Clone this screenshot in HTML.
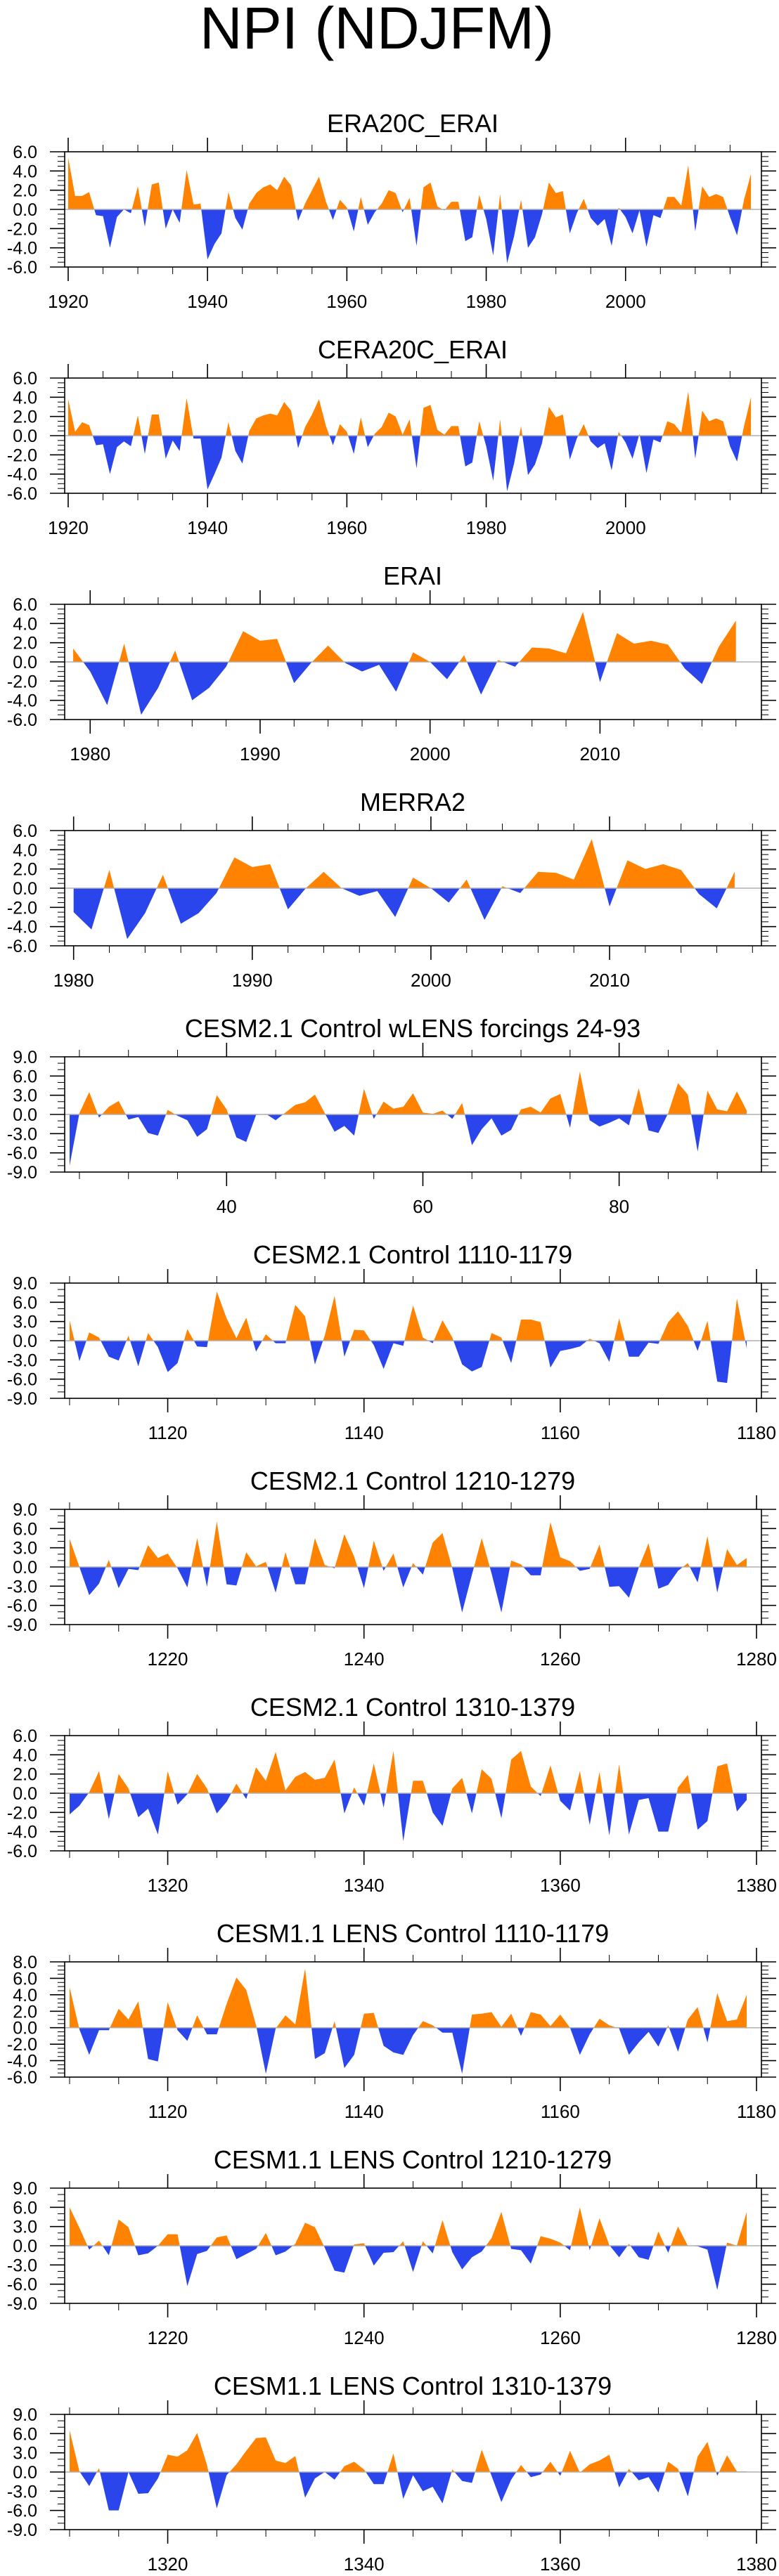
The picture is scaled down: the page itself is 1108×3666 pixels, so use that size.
<!DOCTYPE html>
<html><head><meta charset="utf-8">
<style>
html,body{margin:0;padding:0;background:#fff;}
svg{display:block;font-family:"Liberation Sans",Arial,sans-serif;}
</style></head>
<body>
<svg id="chart" width="1108" height="3666" viewBox="0 0 1108 3666" xmlns="http://www.w3.org/2000/svg">
<text x="536" y="69" font-size="84" text-anchor="middle">NPI (NDJFM)</text>
</svg>
<script>
// ---- data arrays ----
const era20cStart = 1920;
const era20cValues = [5.4,1.4,1.4,1.8,-0.6,-0.7,-4.0,-0.8,0.0,-0.4,2.4,-1.8,2.6,2.8,-2.0,0.0,-1.4,4.1,0.5,0.6,-5.2,-3.6,-2.5,1.8,-0.9,-2.1,0.6,1.7,2.3,2.6,2.0,3.4,2.5,-1.2,0.6,2.0,3.4,0.8,-1.1,1.0,0.2,-2.3,1.3,-1.6,-0.3,0.6,2.0,1.7,-0.3,1.2,-3.8,2.3,2.8,0.3,-0.1,0.8,0.8,-3.3,-2.9,1.5,-1.0,-4.8,1.6,-5.6,-2.8,1.0,-4.0,-2.9,-0.5,2.8,1.7,1.9,-2.5,-0.4,1.1,-0.9,-1.7,-1.0,-3.8,0.2,-0.8,-2.5,-0.1,-3.9,-0.6,-0.9,1.3,1.3,0.4,4.6,-2.3,2.4,1.3,1.6,1.3,-0.8,-2.7,1.0,3.7];
const cera20cStart = 1920;
const cera20cValues = [3.8,0.4,1.4,1.1,-1.0,-0.9,-4.0,-1.2,-0.6,-1.1,2.1,-1.9,2.2,2.2,-2.4,-0.5,-1.6,3.9,-0.3,-0.3,-5.6,-4.0,-2.3,1.4,-1.6,-2.9,0.5,1.8,2.1,2.3,2.1,3.5,2.6,-1.3,0.9,2.2,3.8,1.0,-1.0,1.2,0.4,-1.9,1.9,-1.2,0.2,0.9,2.4,2.0,0.1,1.7,-3.4,2.9,3.2,0.6,0.1,1.0,1.0,-3.2,-2.8,1.5,-1.1,-4.7,1.7,-5.8,-2.9,1.0,-4.1,-3.0,-0.8,3.0,1.9,2.2,-2.5,-0.3,1.2,-0.6,-1.3,-0.8,-3.6,0.4,-0.7,-2.4,0.2,-3.9,-0.4,-0.7,1.5,1.2,0.3,4.6,-2.4,2.6,1.5,1.8,1.5,-1.1,-2.7,1.0,4.0];
const eraiStart = 1979;
const eraiValues = [1.4,-1.0,-4.5,1.9,-5.5,-2.7,1.2,-4.0,-2.7,-0.5,3.2,2.2,2.4,-2.2,-0.1,1.7,-0.1,-1.0,-0.3,-3.1,1.0,0.0,-1.8,0.7,-3.4,0.2,-0.5,1.5,1.4,0.9,5.2,-2.1,3.0,1.9,2.2,1.8,-0.7,-2.3,1.6,4.3];
const merra2Start = 1980;
const merra2Values = [-2.5,-4.3,1.9,-5.3,-2.6,1.4,-3.7,-2.6,-0.5,3.2,2.2,2.5,-2.2,0.0,1.7,0.0,-0.8,-0.3,-3.0,1.1,0.0,-1.5,0.9,-3.3,0.2,-0.5,1.7,1.6,0.9,5.1,-1.9,2.9,2.0,2.5,1.9,-0.6,-2.1,1.7];
const cesm2LensStart = 24;
const cesm2LensValues = [-8.0,0.2,3.5,-0.5,1.2,2.1,-0.8,-0.4,-2.9,-3.3,0.7,-0.2,-0.9,-3.5,-2.3,3.0,0.8,-3.6,-4.3,-0.1,0.1,-0.9,0.3,1.5,1.9,3.1,0.2,-2.7,-1.8,-3.3,4.0,-0.7,2.0,0.9,1.2,3.3,0.3,0.1,0.6,-0.7,1.8,-4.8,-2.3,-0.6,-3.3,-2.4,0.8,1.2,0.3,2.5,3.2,-2.1,6.7,-0.9,-1.9,-1.3,-0.6,-1.7,4.1,-2.5,-2.9,0.2,4.9,3.1,-5.8,3.7,0.8,0.5,3.6,0.6];
const cesm2aStart = 1110;
const cesm2aValues = [3.2,-3.2,1.3,0.5,-2.5,-3.1,0.8,-4.0,1.2,-1.0,-4.9,-3.5,1.8,-0.9,-1.0,7.7,3.5,0.4,3.6,-1.7,1.0,-0.4,-0.4,5.6,3.8,-3.7,0.8,7.0,-2.5,1.7,1.6,-0.7,-4.4,-0.4,-0.8,5.5,0.5,-0.4,3.2,0.5,-3.7,-4.8,-4.1,1.2,0.5,-3.5,3.3,3.3,2.9,-4.2,-1.6,-1.3,-0.9,0.3,-0.4,-3.3,3.5,-2.5,-2.5,-0.3,-0.5,2.9,4.6,2.3,-1.6,3.1,-6.4,-6.6,6.6,-1.2];
const cesm2bStart = 1210;
const cesm2bValues = [4.4,0.0,-4.4,-2.6,1.1,-3.3,-0.3,-0.5,3.4,1.4,2.1,-0.2,-3.2,4.5,-3.1,7.1,-2.7,-2.9,2.3,0.1,0.8,-4.0,2.3,-2.7,-2.7,4.5,0.3,-0.2,5.1,1.6,-3.3,4.1,-0.6,2.1,-3.2,0.6,-1.2,3.8,5.3,-0.2,-7.1,-1.2,4.5,-1.0,-7.1,1.0,0.4,-1.3,-1.3,7.0,1.5,0.9,-0.6,-0.3,3.5,-3.1,-3.0,-4.8,-0.1,3.7,-3.4,-2.8,-0.6,0.6,-2.4,4.8,-4.0,2.8,0.3,1.4];
const cesm2cStart = 1310;
const cesm2cValues = [-2.2,-1.3,0.1,2.3,-2.7,2.0,0.5,-2.5,-1.6,-4.3,2.3,-1.2,-0.1,2.0,0.5,-2.1,-0.9,1.0,-0.6,2.7,1.3,4.3,0.3,1.7,2.2,1.4,1.6,3.5,-2.1,0.6,-1.3,3.1,-1.5,4.4,-5.0,1.3,1.3,-2.0,-3.4,0.5,1.6,-2.1,2.5,1.5,-2.6,3.5,4.4,0.7,-0.3,2.9,-0.8,-1.8,2.3,-3.3,2.2,-4.4,3.0,-4.3,-0.7,-0.5,-4.0,-4.0,0.6,1.9,-3.8,-2.9,2.8,3.1,-1.9,-0.7];
const lensAStart = 1110;
const lensAValues = [4.9,-0.2,-3.3,-0.3,-0.3,2.3,1.0,3.2,-3.8,-4.1,3.1,-0.3,-1.6,1.5,-0.8,-0.8,2.9,6.1,4.6,0.3,-5.6,-0.1,1.5,0.4,7.2,-3.8,-3.1,0.8,-4.9,-3.3,1.7,1.8,-2.2,-3.0,-3.3,-0.9,0.8,0.3,-0.6,-0.6,-5.6,1.6,1.7,1.9,0.1,1.7,-1.0,1.9,1.6,0.2,1.6,0.0,-3.3,-0.8,1.1,0.3,-0.1,-3.3,-1.8,-0.5,-2.3,0.3,-2.9,1.0,2.5,-1.8,4.2,0.8,1.0,4.0];
const lensBStart = 1210;
const lensBValues = [6.0,2.8,-0.6,0.8,-1.5,4.1,2.9,-1.5,-1.2,0.0,1.8,1.8,-6.3,-1.3,-0.8,1.3,1.6,-2.1,-1.3,-0.5,2.0,-1.5,-0.9,0.3,3.6,2.9,-0.3,-3.9,-4.2,0.2,0.4,-3.1,-1.1,-1.0,0.7,-4.1,0.7,-1.2,4.0,-1.0,-3.7,-1.8,-0.9,1.2,5.3,-0.5,-0.7,-2.8,1.5,1.1,0.5,-0.7,6.0,-0.7,4.3,0.1,-1.8,0.3,-1.8,-2.2,2.2,-1.1,3.0,0.0,-0.1,-0.6,-6.9,0.5,0.0,5.3];
const lensCStart = 1310;
const lensCValues = [6.5,0.1,-2.2,0.6,-6.0,-6.0,0.0,-3.4,-3.3,-1.0,2.7,2.4,3.4,6.1,1.1,-5.7,-0.5,1.2,3.3,5.3,5.4,1.8,1.4,2.5,-4.0,-1.0,0.0,-1.2,0.9,1.6,0.4,-1.9,-1.9,2.9,-4.2,-0.5,-3.0,-2.3,-4.9,0.4,-1.4,-1.7,3.5,-0.6,-4.7,-1.2,1.1,-0.8,-0.4,1.6,-0.6,3.3,-0.1,1.2,1.8,2.7,-2.4,0.5,-1.3,-0.8,-3.2,1.6,0.5,-3.8,2.4,4.7,-0.6,2.6,0.1,0.1];

const panelTitles = ["ERA20C_ERAI","CERA20C_ERAI","ERAI","MERRA2","CESM2.1 Control wLENS forcings 24-93","CESM2.1 Control 1110-1179","CESM2.1 Control 1210-1279","CESM2.1 Control 1310-1379","CESM1.1 LENS Control 1110-1179","CESM1.1 LENS Control 1210-1279","CESM1.1 LENS Control 1310-1379"];
const panelStarts = [era20cStart,cera20cStart,eraiStart,merra2Start,cesm2LensStart,cesm2aStart,cesm2bStart,cesm2cStart,lensAStart,lensBStart,lensCStart];
const panelValues = [era20cValues,cera20cValues,eraiValues,merra2Values,cesm2LensValues,cesm2aValues,cesm2bValues,cesm2cValues,lensAValues,lensBValues,lensCValues];
const yMaxTicks = [6,6,6,6,9,9,9,6,8,9,9];
const yMinTicks = [-6,-6,-6,-6,-9,-9,-9,-6,-6,-9,-9];
const yLabelSteps = [2,2,2,2,3,3,3,2,2,3,3];
const yMinorSteps = [0.5,0.5,0.5,0.5,1,1,1,0.5,0.5,1,1];
const xMajorSteps = [20,20,10,10,20,20,20,20,20,20,20];
const xMinorSteps = [5,5,2,2,5,5,5,5,5,5,5];

// ---- layout ----
const NS = "http://www.w3.org/2000/svg";
const svg = document.getElementById("chart");
const BOX_L = 92, BOX_R = 1083, BOX_H = 164, TOP0 = 216, GAP = 322;
const ORANGE = "#FF8200", BLUE = "#2A45EC";
function el(tag, attrs, parent){
  const e = document.createElementNS(NS, tag);
  for (const k in attrs) e.setAttribute(k, attrs[k]);
  parent.appendChild(e);
  return e;
}
function near(a,b){return Math.abs(a-b)<1e-6;}

panelValues.forEach(function(vals, p){
  const g = el("g", {}, svg);
  
  
  const top = TOP0 + GAP*p, bot = top + BOX_H;
  const start = panelStarts[p];
  const xMin = start - 0.5, xMax = start + vals.length - 1 + 1.5;
  const yMin = yMinTicks[p], yMax = yMaxTicks[p];
  const xs = function(v){ return BOX_L + (v - xMin) / (xMax - xMin) * (BOX_R - BOX_L); };
  const ys = function(v){ return bot - (v - yMin) / (yMax - yMin) * BOX_H; };

  const t = el("text", {x:587, y:top-28, "font-size":36, "text-anchor":"middle"}, g);
  t.textContent = panelTitles[p];
  
  

  // fill
  const y0 = ys(0);
  let d = "M" + xs(start).toFixed(2) + "," + y0.toFixed(2);
  vals.forEach(function(v,i){ d += " L" + xs(start+i).toFixed(2) + "," + ys(v).toFixed(2); });
  d += " L" + xs(start+vals.length-1).toFixed(2) + "," + y0.toFixed(2) + " Z";
  const cidA = "clipA" + p, cidB = "clipB" + p;
  const defs = el("defs", {}, g);
  const ca = el("clipPath", {id:cidA}, defs);
  el("rect", {x:BOX_L, y:top, width:BOX_R-BOX_L, height:y0-top}, ca);
  const cb = el("clipPath", {id:cidB}, defs);
  el("rect", {x:BOX_L, y:y0, width:BOX_R-BOX_L, height:bot-y0}, cb);
  const pa = el("path", {d:d, fill:ORANGE, "clip-path":"url(#"+cidA+")"}, g);
  
  
  const pb = el("path", {d:d, fill:BLUE, "clip-path":"url(#"+cidB+")"}, g);
  
  

  const zl = el("line", {x1:BOX_L, x2:BOX_R, y1:y0, y2:y0, stroke:"#b0b0b0", "stroke-width":1.5}, g);
  
  

  const fr = el("rect", {x:BOX_L, y:top, width:BOX_R-BOX_L, height:BOX_H, fill:"none", stroke:"#000", "stroke-width":1.6}, g);
  
  

  // y ticks
  const ySt = yMinorSteps[p], yL = yLabelSteps[p];
  for (let v = yMin; v <= yMax + 1e-6; v += ySt){
    const vy = ys(v);
    const major = near(Math.round(v/yL)*yL, v);
    const len = major ? 21 : 10;
    el("line", {x1:BOX_L-len, x2:BOX_L, y1:vy, y2:vy, stroke:"#000", "stroke-width":major?1.6:1}, g);
    el("line", {x1:BOX_R, x2:BOX_R+len, y1:vy, y2:vy, stroke:"#000", "stroke-width":major?1.6:1}, g);
    if (major){
      const lb = el("text", {x:53, y:vy+9, "font-size":25, "text-anchor":"end"}, g);
      lb.textContent = (Math.abs(v)<1e-9?0:v).toFixed(1);
      
      
    }
  }
  // x ticks
  const xMi = xMinorSteps[p], xMa = xMajorSteps[p];
  for (let v = Math.ceil(xMin/xMi)*xMi; v <= xMax; v += xMi){
    const vx = xs(v);
    const major = (v % xMa) === 0;
    const len = major ? 20 : 10;
    el("line", {x1:vx, x2:vx, y1:top-len, y2:top, stroke:"#000", "stroke-width":major?1.6:1}, g);
    el("line", {x1:vx, x2:vx, y1:bot, y2:bot+len, stroke:"#000", "stroke-width":major?1.6:1}, g);
    if (major){
      const lb = el("text", {x:vx, y:bot+58, "font-size":26, "text-anchor":"middle"}, g);
      lb.textContent = String(v);
      
      
    }
  }
});
</script>
</body></html>
